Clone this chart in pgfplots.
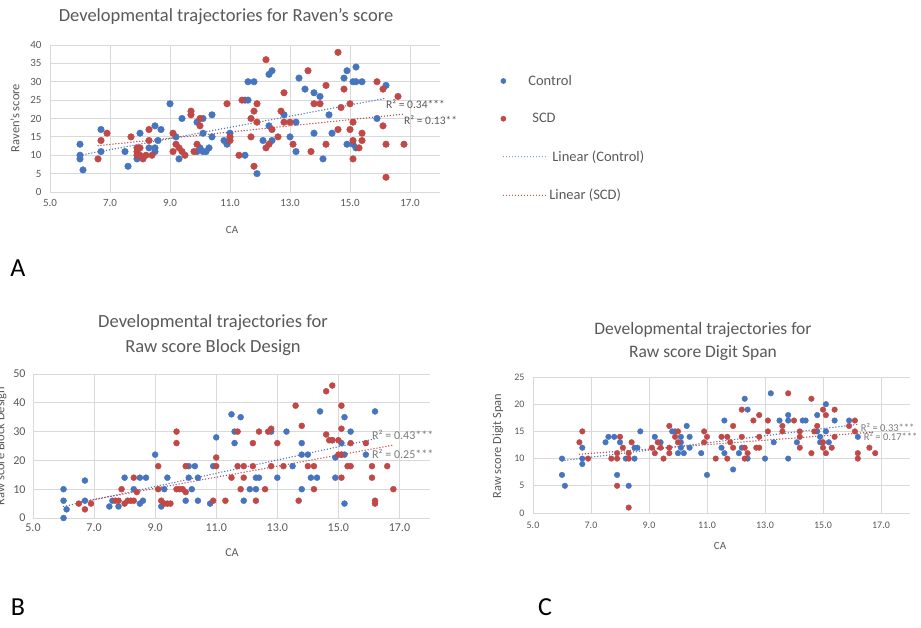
\documentclass[border=0pt]{standalone}
\usepackage{pgfplots}
\pgfplotsset{compat=1.18}
\usepackage{fontspec}
\setmainfont{Carlito}
\definecolor{ctrl}{RGB}{70,116,190}
\definecolor{scd}{RGB}{192,72,70}
\definecolor{txt}{RGB}{89,89,89}
\definecolor{gridc}{RGB}{217,217,217}
\pgfplotsset{
  excel/.style={
    scale only axis, anchor=south west, clip=false,
    xmin=5, xmax=18, xtick={5,7,...,17},
    axis lines*=left, axis line style={draw=gridc, line width=0.8pt},
    grid=major, major grid style={draw=gridc, line width=0.8pt},
    major tick length=0pt,
    tick label style={text=txt},
    /pgf/number format/assume math mode=true,
    xticklabel style={/pgf/number format/fixed, /pgf/number format/fixed zerofill, /pgf/number format/precision=1},
  },
  legmark/.style={legend image code/.code={\path[draw=none,fill=none] (-4pt,-4pt) rectangle (23pt,4pt); \draw[##1, mark size=2.6pt] plot coordinates {(0pt,0pt)};}},
  legline/.style={legend image code/.code={\path[draw=none,fill=none] (-4pt,-4pt) rectangle (23pt,4pt); \draw[##1,overlay, line width=1.2pt] (0pt,0pt) -- (43pt,0pt);}},
  trend/.style={line width=1.5pt, line cap=round, dash pattern=on 0pt off 3pt},
}
\pgfplotstableread{
x y
6.0 13
6.0 10
6.0 9
6.1 6
6.7 17
6.7 11
7.5 11
7.6 7
7.9 9
8.0 16
8.3 12
8.5 18
8.5 12
8.5 11
8.6 14
8.7 17
9.0 24
9.2 15
9.3 9
9.4 20
9.9 19
10.1 20
10.1 16
9.9 11
10.0 12
10.1 11
10.2 11
10.3 12
10.4 15
10.4 21
10.8 14
10.9 13
11.0 16
11.5 25
11.6 25
11.6 30
11.8 30
11.5 10
11.9 5
12.1 14
12.3 32
12.4 33
12.3 18
12.4 14
12.8 21
13.0 15
13.2 19
13.2 11
13.3 31
13.5 28
13.8 27
14.0 26
13.8 16
14.1 9
14.3 21
14.4 16
14.8 31
14.9 33
14.9 13
15.2 34
15.1 30
15.2 30
15.4 30
15.1 13
15.2 12
15.9 20
16.2 29
}\Actrl
\pgfplotstableread{
x y
6.6 9
6.7 14
6.9 16
7.7 15
7.9 12
7.9 11
7.9 10
8.0 12
8.0 10
8.1 9
8.2 10
8.3 17
8.3 14
8.4 10
9.1 16
9.1 11
9.2 13
9.3 12
9.4 11
9.5 10
9.7 22
9.7 21
9.8 11
9.9 13
10.0 20
10.0 18
10.9 24
11.0 15
11.0 14
11.3 10
11.4 25
11.7 20
11.7 15
11.8 22
11.8 7
11.9 24
11.9 19
12.2 36
12.2 12
12.3 13
12.4 17
12.6 15
12.7 22
12.8 27
12.8 19
13.0 19
13.1 13
13.6 33
13.7 11
13.8 24
14.0 24
14.2 29
14.2 13
14.6 38
14.6 17
14.7 23
14.8 28
15.0 24
15.0 17
15.1 19
15.1 14
15.1 9
15.3 12
15.4 16
15.4 14
15.9 30
16.1 28
16.1 18
16.2 13
16.2 4
16.6 26
16.8 13
}\Ascd
\pgfplotstableread{
x y
6.0 10
6.0 6
6.1 3
6.0 0
6.7 13
6.7 6
7.5 4
7.6 6
7.8 4
8.0 14
8.3 10
8.5 14
8.7 14
8.5 5
8.6 6
9.0 22
9.2 4
9.3 10
9.4 14
10.0 6
10.1 14
10.2 10
10.1 18
10.3 18
10.4 14
10.4 6
10.8 5
10.9 18
11.0 28
11.5 36
11.6 30
11.6 26
11.8 35
11.9 6
12.1 10
12.3 10
12.3 14
12.4 14
12.8 30
13.0 14
13.3 30
13.5 18
13.8 26
13.8 10
13.8 22
14.0 22
14.1 14
14.3 14
14.4 37
14.8 27
14.9 14
14.9 21
15.1 26
15.2 35
15.1 22
15.2 22
15.2 5
15.4 30
15.9 22
16.2 37
}\Bctrl
\pgfplotstableread{
x y
6.5 5
6.7 3
6.9 5
7.7 6
7.8 6
7.9 10
8.0 5
8.1 6
8.2 6
8.3 14
8.3 6
8.4 9
9.1 18
9.1 10
9.2 6
9.3 5
9.4 5
9.5 5
9.7 30
9.7 26
9.7 10
9.8 10
9.9 10
10.0 9
10.0 18
10.9 6
11.0 21
11.0 18
11.3 6
11.5 14
11.7 30
11.7 18
11.9 18
11.8 10
11.9 14
12.2 26
12.2 18
12.3 6
12.4 30
12.6 10
12.7 30
12.8 31
12.8 18
13.0 26
13.2 18
13.6 39
13.7 6
13.8 32
14.0 18
14.2 18
14.2 10
14.6 44
14.8 46
14.6 29
14.7 27
14.8 27
15.0 27
15.0 22
15.1 22
15.1 14
15.1 39
15.1 31
15.3 18
15.4 18
15.4 26
15.9 26
16.1 18
16.1 14
16.2 6
16.2 5
16.6 18
16.8 10
}\Bscd
\pgfplotstableread{
x y
6.0 10
6.0 7
6.1 5
6.7 12
6.7 10
6.7 9
7.5 13
7.6 14
7.8 14
8.0 13
7.9 7
8.2 10
8.5 10
8.3 5
8.5 12
8.6 12
8.7 15
9.2 14
9.4 13
9.8 15
9.9 15
10.1 14
10.1 13
10.0 11
10.2 11
10.1 12
10.3 16
10.4 14
10.4 12
10.8 11
11.0 7
11.6 17
11.5 12
11.6 11
11.9 8
12.1 11
12.3 21
12.4 19
12.2 12
12.4 10
13.0 10
13.2 22
13.3 13
13.5 17
13.8 18
13.8 17
13.8 10
14.1 13
14.3 17
14.4 17
14.8 18
14.8 15
14.9 14
14.9 13
15.1 20
15.1 15
15.2 13
15.4 17
15.9 17
16.2 14
}\Cctrl
\pgfplotstableread{
x y
6.6 13
6.7 15
6.9 10
7.7 10
7.9 10
7.9 11
8.0 14
8.1 12
7.9 5
8.3 1
8.4 13
8.3 10
8.3 11
9.1 12
9.2 11
9.3 13
9.4 12
9.5 10
9.7 16
9.7 12
9.7 11
9.9 14
10.0 13
10.0 15
10.9 15
10.9 13
11.0 14
11.3 10
11.5 14
11.7 14
11.8 13
11.9 12
11.7 10
11.9 16
12.2 19
12.2 14
12.3 12
12.4 11
12.3 10
12.6 17
12.8 18
12.8 14
12.7 12
12.8 12
13.1 17
13.1 15
13.8 22
13.6 16
13.6 15
14.0 17
14.2 15
14.2 14
14.2 12
14.6 21
14.6 11
14.7 15
14.8 16
15.0 19
15.1 18
15.0 13
15.0 12
15.1 11
15.4 19
15.4 14
15.3 12
15.9 16
16.1 17
16.1 15
16.2 11
16.2 10
16.6 12
16.8 11
}\Cscd
\begin{document}
\begin{tikzpicture}
\useasboundingbox (0pt,0pt) rectangle (921pt,628pt);
% ---------- A ----------
\begin{axis}[excel, at={(50pt,436pt)}, width=390pt, height=147pt,
  ymin=0, ymax=40, ytick={0,5,...,40},
  tick label style={font=\fontsize{11}{13}\selectfont},
  xticklabel style={yshift=-4pt}, yticklabel style={xshift=-5pt},
  legend style={at={(1.144,0.823)}, anchor=north west, draw=none, fill=none,
    font=\fontsize{14.5}{17}\selectfont, text=txt, row sep=22.5pt},
  legend cell align=left]
\addplot[only marks, mark=*, mark size=3.3pt, mark options={draw=ctrl, fill=ctrl}, legmark] table {\Actrl};
\addlegendentry{Control}
\addplot[only marks, mark=*, mark size=3.3pt, mark options={draw=scd, fill=scd}, legmark] table {\Ascd};
\addlegendentry{\hspace*{4pt}SCD}
\addplot[ctrl, trend, legline] coordinates {(6.0,10.0) (16.2,25.5)};
\addlegendentry{\hspace*{24pt}Linear (Control)}
\addplot[scd, trend, legline] coordinates {(6.6,12.6) (16.8,21.2)};
\addlegendentry{\hspace*{21pt}Linear (SCD)}
\node[anchor=west, inner sep=0pt, text=txt, font=\fontsize{11.5}{13}\selectfont] at (axis cs:16.2,23.9) {R² = 0.34***};
\node[anchor=west, inner sep=0pt, text=txt, font=\fontsize{11.5}{13}\selectfont] at (axis cs:16.8,19.6) {R² = 0.13**};
\end{axis}
% ---------- B ----------
\begin{axis}[excel, at={(33pt,110pt)}, width=397pt, height=144pt,
  ymin=0, ymax=50, ytick={0,10,...,50},
  tick label style={font=\fontsize{12}{14}\selectfont},
  xticklabel style={yshift=-2pt}, yticklabel style={xshift=-4pt}]
\addplot[only marks, mark=*, mark size=3pt, mark options={draw=ctrl, fill=ctrl}] table {\Bctrl};
\addplot[only marks, mark=*, mark size=3pt, mark options={draw=scd, fill=scd}] table {\Bscd};
\addplot[ctrl, trend] coordinates {(6.0,4.0) (16.2,27.5)};
\addplot[scd, trend] coordinates {(6.5,5.5) (16.8,25.3)};
\node[anchor=west, inner sep=0pt, text=txt!80, font=\fontsize{12}{14}\selectfont] at (axis cs:16.1,28.8) {R² = 0.43***};
\node[anchor=west, inner sep=0pt, text=txt!80, font=\fontsize{12}{14}\selectfont] at (axis cs:16.1,22.2) {R² = 0.25***};
\end{axis}
% ---------- C ----------
\begin{axis}[excel, at={(533pt,115pt)}, width=377pt, height=136pt,
  ymin=0, ymax=25, ytick={0,5,...,25},
  tick label style={font=\fontsize{10}{12}\selectfont},
  xticklabel style={yshift=-5pt}, yticklabel style={xshift=-5pt}]
\addplot[only marks, mark=*, mark size=2.8pt, mark options={draw=ctrl, fill=ctrl}] table {\Cctrl};
\addplot[only marks, mark=*, mark size=2.8pt, mark options={draw=scd, fill=scd}] table {\Cscd};
\addplot[ctrl, trend] coordinates {(6.0,9.6) (16.2,16.3)};
\addplot[scd, trend] coordinates {(6.6,10.8) (16.8,14.9)};
\node[anchor=west, inner sep=0pt, text=txt!80, font=\fontsize{10.5}{12}\selectfont] at (axis cs:16.3,15.8) {R² = 0.33***};
\node[anchor=west, inner sep=0pt, text=txt!80, font=\fontsize{10.5}{12}\selectfont] at (axis cs:16.4,14.0) {R² = 0.17***};
\end{axis}
% ---------- titles and labels ----------
\node[text=txt, font=\fontsize{18.5}{22}\selectfont] at (226pt,611pt) {Developmental trajectories for Raven's score};
\node[text=txt, font=\fontsize{18.5}{25}\selectfont, align=center] at (213pt,292.5pt) {Developmental trajectories for\\Raw score Block Design};
\node[text=txt, font=\fontsize{17.5}{23}\selectfont, align=center] at (703pt,286.5pt) {Developmental trajectories for\\Raw score Digit Span};
\node[text=txt, font=\fontsize{11}{13}\selectfont] at (232pt,398pt) {CA};
\node[text=txt, font=\fontsize{12}{14}\selectfont] at (232pt,75pt) {CA};
\node[text=txt, font=\fontsize{11}{13}\selectfont] at (720pt,82pt) {CA};
\node[text=txt, font=\fontsize{12.5}{14}\selectfont, rotate=90] at (15pt,510pt) {Raven's score};
\node[text=txt, font=\fontsize{12.5}{14}\selectfont, rotate=90] at (1pt,182pt) {Raw score Block Design};
\node[text=txt, font=\fontsize{12.4}{14}\selectfont, rotate=90] at (498pt,182pt) {Raw score Digit Span};
\node[font=\fontsize{26}{30}\selectfont] at (18pt,360pt) {A};
\node[font=\fontsize{26}{30}\selectfont] at (18pt,21pt) {B};
\node[font=\fontsize{26}{30}\selectfont] at (545pt,21pt) {C};
\end{tikzpicture}
\end{document}
